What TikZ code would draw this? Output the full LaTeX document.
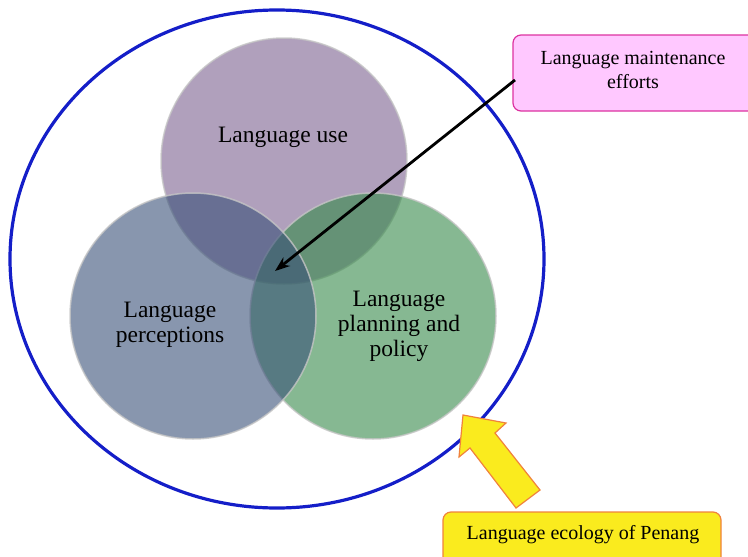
\documentclass[tikz,border=0pt]{standalone}
\usepackage{fontspec}
\setmainfont{Liberation Serif}
\usetikzlibrary{shapes.geometric,arrows.meta}
\definecolor{cpurple}{RGB}{123,97,143}
\definecolor{cblue}{RGB}{57,80,120}
\definecolor{cgreen}{RGB}{53,137,73}
\definecolor{ringblue}{RGB}{20,30,200}
\definecolor{pinkfill}{RGB}{255,200,255}
\definecolor{pinkline}{RGB}{220,50,160}
\definecolor{yelfill}{RGB}{250,235,30}
\definecolor{yelline}{RGB}{240,130,60}
\begin{document}
\begin{tikzpicture}[x=1pt,y=-1pt,
  venn/.style={circle,minimum size=246pt,inner sep=0pt,fill opacity=0.6,draw=gray!45,draw opacity=0.8,line width=1.5pt},
  vtext/.style={font=\fontsize{23.5}{25}\selectfont,align=center,text opacity=1},
  callout/.style={rounded corners=8pt,line width=1.2pt},
]
\useasboundingbox (0,0) rectangle (748,557);
\node[ellipse,draw=ringblue,line width=3.2pt,minimum width=534pt,minimum height=498pt,inner sep=0pt] (eco) at (277,259) {};
\node[venn,fill=cpurple] (use) at (284,161) {};
\node[venn,fill=cgreen] (plan) at (373,316) {};
\node[venn,fill=cblue] (perc) at (193,316) {};
\node[vtext] (tuse) at (283,137) {Language use};
\node[vtext] (tperc) at (170,325) {Language\\perceptions};
\node[vtext] (tplan) at (399,326) {Language\\planning and\\policy};
\coordinate (center) at (275,271);
\draw[callout,draw=pinkline,fill=pinkfill] (513,35) rectangle (758,111);
\node[font=\fontsize{20}{24}\selectfont,align=center] (maint) at (633,70) {Language maintenance\\efforts};
\draw[-{Stealth[length=15pt,width=11pt]},line width=2.8pt] (515,80) -- (center);
\draw[callout,draw=yelline,fill=yelfill] (443,512) rectangle (721,567);
\node[font=\fontsize{20}{22}\selectfont] (ecol) at (583,535) {Language ecology of Penang};
\draw[draw=yelline,fill=yelfill,line width=1.2pt,line join=miter]
  (463,415) -- (506,423) -- (495,433) -- (540,490) -- (516,508) -- (470,448) -- (459,457) -- cycle;
\end{tikzpicture}
\end{document}
